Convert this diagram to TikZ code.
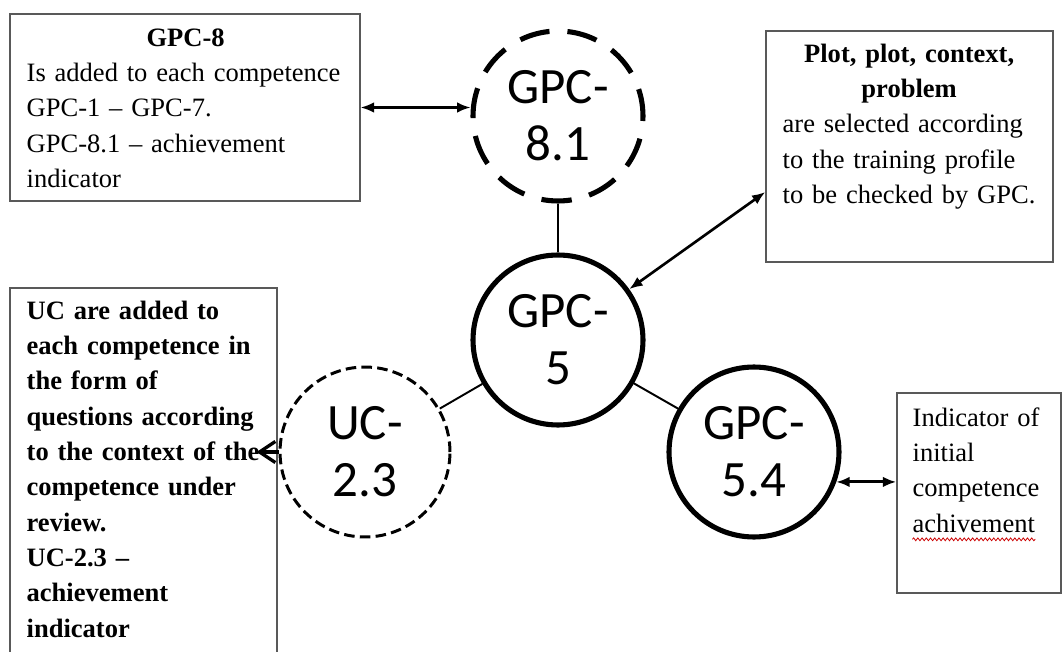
\documentclass[tikz,border=0pt]{standalone}
\usepackage{fontspec}
\setmainfont{Liberation Serif}
\newfontfamily\compfont{Carlito}
\usetikzlibrary{arrows.meta, calc, decorations.pathmorphing}

\begin{document}
\begin{tikzpicture}[
    x=0.02cm, y=-0.02cm,
    font=\fontsize{15.1pt}{20.1pt}\selectfont,
    frame/.style={
        draw=black!65,
        line width=0.8pt,
        rectangle,
        inner sep=0pt
    },
    boxtext/.style={
        anchor=base west,
        inner sep=0pt,
        align=left
    },
    comp/.style={
        circle,
        draw,
        fill=white,
        line width=2.9pt,
        minimum size=3.4cm,
        inner sep=0pt,
        align=center,
        font=\compfont\fontsize{29pt}{32.5pt}\selectfont
    },
    compdash/.style={comp, dash pattern=on 17.3pt off 10.23pt, dash phase=1.75pt},
    compfine/.style={comp, line width=1.7pt, dash pattern=on 6pt off 3pt},
    link/.style={line width=1.1pt},
    twoway/.style={{Latex[length=7.6pt, width=6pt]}-{Latex[length=7.6pt, width=6pt]}, line width=1.2pt},
    barb/.style={-{Straight Barb[length=9pt, width=12pt]}, line width=1.9pt},
    spell/.style={draw=red!80!black, line width=0.45pt, decorate,
        decoration={snake, amplitude=0.8pt, segment length=2.4pt}}
]
    \path[use as bounding box, fill=white] (0,0) rectangle (1063,652);

    % boxes
    \node[frame, minimum width=7cm, minimum height=3.74cm] (lbox) at (185,107.5) {};
    \node[frame, minimum width=5.74cm, minimum height=4.62cm] (ctxbox) at (909.5,146.5) {};
    \node[frame, minimum width=5.34cm, minimum height=7.44cm] (ucbox) at (143.5,474) {};
    \node[frame, minimum width=3.28cm, minimum height=4cm] (indbox) at (979,493) {};

    \node[boxtext, text width=6.36cm] (lboxtxt) at ($(lbox.north west)+(17,33)$) {
        \makebox[\linewidth]{\textbf{GPC-8}}\\
        Is added to each competence\\
        GPC-1 -- GPC-7.\\
        GPC-8.1 -- achievement\\
        indicator
    };
    \node[boxtext, text width=5.06cm] (ctxtxt) at ($(ctxbox.north west)+(17,32)$) {
        \makebox[\linewidth]{\textbf{Plot, plot, context,}}\\
        \makebox[\linewidth]{\textbf{problem}}\\
        are selected according\\
        to the training profile\\
        to be checked by GPC.
    };
    \node[boxtext, text width=4.8cm, font=\fontsize{15.1pt}{20.1pt}\selectfont\bfseries] (uctxt) at ($(ucbox.north west)+(17,32)$) {
        UC are added to\\
        each competence in\\
        the form of\\
        questions according\\
        to the context of the\\
        competence under\\
        review.\\
        UC-2.3 --\\
        achievement\\
        indicator
    };
    \node[boxtext, text width=2.8cm] (indtxt) at ($(indbox.north west)+(16,34)$) {
        Indicator of\\
        initial\\
        competence\\
        achivement
    };
    \draw[spell] ($(indtxt.base west)+(0,113)$) -- ++(123,0);

    % competences
    \node[compdash] (g81) at (558,116) {GPC-\\8.1};
    \node[comp] (g5) at (558,340) {GPC-\\5};
    \node[compfine] (uc) at (365,452) {UC-\\2.3};
    \node[comp] (g54) at (754,452) {GPC-\\5.4};

    \draw[link] (g81) -- (g5);
    \draw[link] (g5) -- (uc);
    \draw[link] (g5) -- (g54);

    \coordinate (ctxin) at ($(ctxbox.west)+(0,45.5)$);
    \coordinate (ucout) at ($(uc.west)+(-22,0)$);

    \draw[twoway] (lbox.east) -- (lbox.east -| g81.west);
    \draw[twoway, line width=1.5pt] (g5) -- (ctxin);
    \draw[twoway, line width=1.7pt] (g54.-20) -- (g54.-20 -| indbox.west);
    \draw[barb] (uc.west) -- (ucout);
\end{tikzpicture}
\end{document}
